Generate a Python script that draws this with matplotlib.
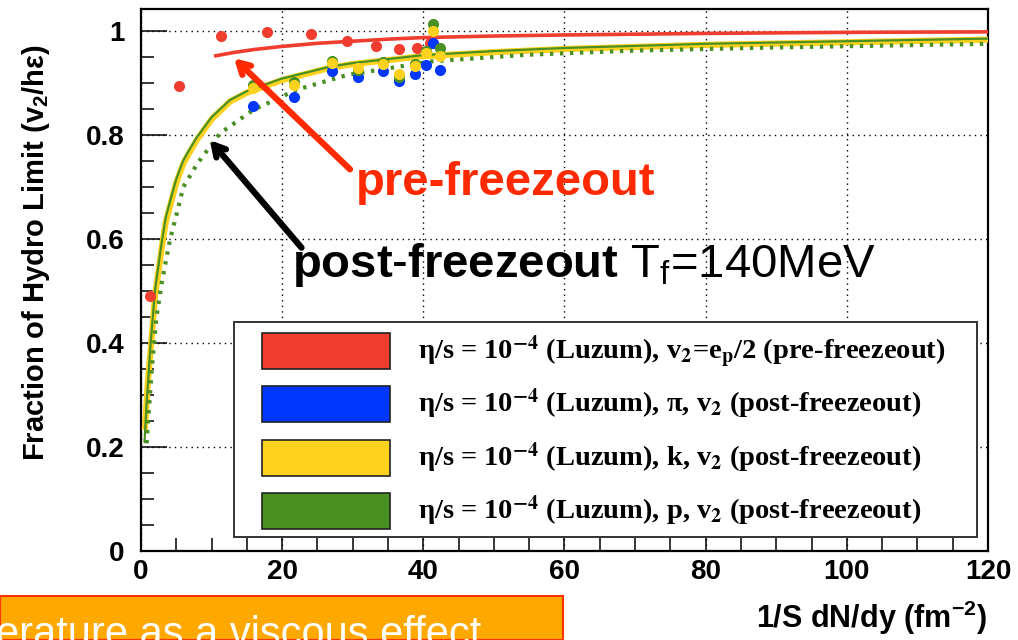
import matplotlib
matplotlib.use("Agg")
import matplotlib.pyplot as plt
from matplotlib.patches import Rectangle

plt.rcParams['font.family'] = ['Liberation Sans', 'DejaVu Sans']
plt.rcParams['mathtext.fontset'] = 'custom'
plt.rcParams['mathtext.rm'] = 'Liberation Sans'
plt.rcParams['mathtext.bf'] = 'Liberation Sans:bold'
plt.rcParams['mathtext.it'] = 'Liberation Sans:italic'

# calculation curves (1/S dN/dy, fraction of hydro limit)
pre_curve_x = [10.6, 13, 16, 20, 25, 30, 35, 40, 50, 60, 80, 100, 120]
pre_curve_y = [0.952, 0.958, 0.964, 0.970, 0.976, 0.980, 0.984, 0.987, 0.990, 0.992, 0.995, 0.997, 0.998]

k_curve_x = [0.57, 1.0, 1.37, 2.0, 2.9, 3.5, 4.35, 5.0, 6.0, 6.7, 7.9, 10, 12.6, 15, 19.9, 26.8, 30, 39.8, 50, 60, 80, 100, 120]
k_curve_y = [0.239, 0.330, 0.387, 0.492, 0.579, 0.632, 0.675, 0.708, 0.745, 0.762, 0.790, 0.830, 0.864, 0.881, 0.905, 0.929, 0.936, 0.951, 0.959, 0.965, 0.973, 0.978, 0.983]

p_curve_x = [0.5, 0.8, 1.37, 2.0, 2.9, 3.5, 4.35, 5.0, 6.0, 6.7, 7.9, 10, 12.6, 15, 19.9, 26.8, 30, 39.8, 50, 60, 80, 100, 120]
p_curve_y = [0.210, 0.285, 0.400, 0.503, 0.590, 0.641, 0.684, 0.715, 0.751, 0.768, 0.795, 0.834, 0.867, 0.884, 0.908, 0.931, 0.938, 0.953, 0.961, 0.967, 0.975, 0.980, 0.985]

p_dot_x = [0.8, 1.5, 2.2, 3.0, 4.1, 5.0, 6.0, 8.0, 11.2, 15.9, 22.1, 29.2, 41, 54.7, 70, 90, 120]
p_dot_y = [0.207, 0.345, 0.450, 0.520, 0.598, 0.645, 0.700, 0.745, 0.803, 0.848, 0.887, 0.915, 0.941, 0.954, 0.962, 0.968, 0.975]

# simulation points
pre_pts_x = [1.3, 5.4, 11.3, 17.9, 24.1, 29.2, 33.3, 36.6, 39.1, 41.0]
pre_pts_y = [0.490, 0.893, 0.990, 0.997, 0.994, 0.980, 0.970, 0.965, 0.967, 0.977]

pid_x = [15.9, 21.7, 27.0, 30.7, 34.3, 36.6, 38.8, 40.4, 41.4, 42.3]
pion_y = [0.856, 0.872, 0.922, 0.911, 0.922, 0.903, 0.917, 0.935, 0.976, 0.925]
kaon_y = [0.890, 0.896, 0.938, 0.928, 0.936, 0.917, 0.932, 0.957, 0.999, 0.951]
proton_y = [0.895, 0.902, 0.942, 0.924, 0.940, 0.912, 0.936, 0.962, 1.013, 0.967]

x_ticks = [0, 20, 40, 60, 80, 100, 120]
y_ticks = [0, 0.2, 0.4, 0.6, 0.8, 1.0]
y_tick_labels = ['0', '0.2', '0.4', '0.6', '0.8', '1']

legend_labels = [
    r'η/s = 10$^{\mathbf{-4}}$ (Luzum), v$_{\mathbf{2}}$=e$_{\mathbf{p}}$/2 (pre-freezeout)',
    r'η/s = 10$^{\mathbf{-4}}$ (Luzum), π, v$_{\mathbf{2}}$ (post-freezeout)',
    r'η/s = 10$^{\mathbf{-4}}$ (Luzum), k, v$_{\mathbf{2}}$ (post-freezeout)',
    r'η/s = 10$^{\mathbf{-4}}$ (Luzum), p, v$_{\mathbf{2}}$ (post-freezeout)',
]

RED = '#EF3E2F'
BLUE = '#0037FF'
YELLOW = '#FCD21F'
GREEN = '#4A8F22'

fig = plt.figure(figsize=(10.18, 6.4), dpi=100)
ax = fig.add_axes([0.1385, 0.139, 0.832, 0.847])

ax.plot(pre_curve_x, pre_curve_y, color=RED, lw=2.6, zorder=3)
ax.plot(k_curve_x, k_curve_y, color=YELLOW, lw=4.5, zorder=3)
ax.plot(p_curve_x, p_curve_y, color=GREEN, lw=1.6, zorder=3)
ax.plot(p_dot_x, p_dot_y, color=GREEN, lw=3, ls=(0, (0.8, 1.6)), zorder=3)

ms = 8
ax.plot(pre_pts_x, pre_pts_y, 'o', color=RED, ms=ms, mec='none', zorder=4)
ax.plot(pid_x, pion_y, 'o', color=BLUE, ms=ms, mec='none', zorder=4)
ax.plot(pid_x, proton_y, 'o', color=GREEN, ms=ms, mec='none', zorder=4)
ax.plot(pid_x, kaon_y, 'o', color=YELLOW, ms=ms, mec='none', zorder=4)

ax.set_xlim(0, 120)
ax.set_ylim(0, 1.042)
ax.set_xticks(x_ticks)
ax.set_xticklabels([str(v) for v in x_ticks])
ax.set_yticks(y_ticks)
ax.set_yticklabels(y_tick_labels)
ax.set_xticks(range(0, 121, 5), minor=True)
ax.set_yticks([i * 0.05 for i in range(21)], minor=True)
ax.tick_params(which='major', direction='in', length=19, width=1.1, labelsize=20)
ax.tick_params(which='minor', direction='in', length=9.5, width=1.1)
ax.tick_params(axis='y', which='major', pad=12)
ax.tick_params(axis='x', which='major', pad=6)
for lab in ax.get_xticklabels() + ax.get_yticklabels():
    lab.set_fontweight('bold')
ax.grid(True, which='major', color='black', ls=(0, (1, 3)), lw=1)
for s in ax.spines.values():
    s.set_linewidth(1.6)

ax.set_ylabel(r'Fraction of Hydro Limit (v$_{\mathbf{2}}$/hε)', fontsize=21, fontweight='bold')
ax.yaxis.set_label_coords(-0.105, 0.55)
ax.set_xlabel(r'1/S dN/dy (fm$^{\mathbf{-2}}$)', fontsize=22, fontweight='bold', loc='right')
ax.xaxis.set_label_coords(0.9985, -0.088)

# legend drawn as a boxed set of colour swatches
box = Rectangle((0.110, 0.026), 0.877, 0.3965, transform=ax.transAxes,
                facecolor='white', edgecolor='#333333', lw=1.4, zorder=6)
ax.add_patch(box)
row_y = [0.369, 0.271, 0.172, 0.074]
for yc, col, lab in zip(row_y, [RED, BLUE, YELLOW, GREEN], legend_labels):
    ax.add_patch(Rectangle((0.143, yc - 0.033), 0.151, 0.066, transform=ax.transAxes,
                           facecolor=col, edgecolor='#222222', lw=1.2, zorder=7))
    ax.text(0.327, yc, lab, transform=ax.transAxes, fontsize=20.5, fontweight='bold',
            family='Liberation Serif', math_fontfamily='stix', va='center', ha='left', zorder=8)

# annotations
arrow_style = '->,head_length=0.8,head_width=0.45'
ax.annotate('', xy=(12.9, 0.951), xytext=(29.9, 0.73),
            arrowprops=dict(arrowstyle=arrow_style, color='#FF2A00', lw=4.5), zorder=5)
ax.text(51.6, 0.708, 'pre-freezeout', color='#FF2A00', fontsize=34, fontweight='bold',
        ha='center', va='center', zorder=5)
ax.annotate('', xy=(9.5, 0.794), xytext=(23.0, 0.579),
            arrowprops=dict(arrowstyle=arrow_style, color='black', lw=4.5), zorder=5)
ax.text(21.4, 0.55, r'$\mathbf{post}$-$\mathbf{freezeout}$ T$_{\rm f}$=140MeV', color='black',
        fontsize=34, ha='left', va='center', zorder=5)

# slide caption strip at the bottom left
fig.patches.append(Rectangle((0, 0), 563 / 1018, 44 / 640, transform=fig.transFigure,
                             facecolor='#FFA800', edgecolor='#FF3300', lw=1.5, zorder=0))
fig.text(-0.004, -6 / 640, 'erature as a viscous effect', color='white', fontsize=30,
         ha='left', va='baseline')

fig.savefig('out.png', dpi=100)
